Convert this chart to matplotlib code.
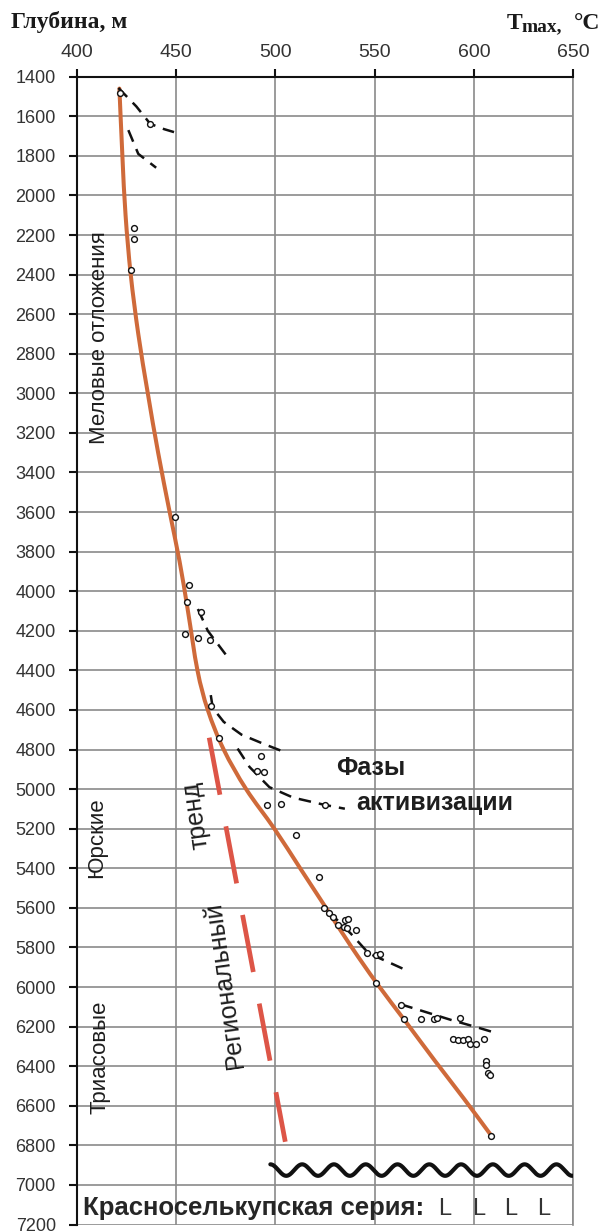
import numpy as np
import matplotlib
matplotlib.use("Agg")
import matplotlib.pyplot as plt
from matplotlib.path import Path
from matplotlib.patches import PathPatch

# ---- data -------------------------------------------------------------
# Tmax measurements (degC) and their depths (m)
tmax_values = [421.8, 436.9, 428.9, 428.9, 427.2,
               449.6, 456.4, 455.5, 462.6, 454.5, 460.9, 467.1,
               467.6, 471.5, 492.9, 490.7, 494.5, 495.7, 502.6, 510.5, 524.8,
               522.0, 524.5, 527.0, 529.0, 531.5, 534.9, 536.6, 534.4, 536.2,
               540.8, 546.1, 550.8, 552.5, 550.8, 563.4, 564.6, 573.5, 579.7,
               581.4, 592.8, 589.4, 592.0, 594.5, 597.0, 598.2, 600.8, 604.9,
               605.9, 606.2, 607.0, 607.9, 608.8]
tmax_depths = [1484, 1641, 2165, 2219, 2378,
               3627, 3970, 4054, 4107, 4215, 4237, 4245,
               4578, 4744, 4833, 4908, 4915, 5079, 5074, 5234, 5079,
               5446, 5603, 5628, 5645, 5687, 5662, 5658, 5695, 5704,
               5712, 5830, 5839, 5834, 5979, 6092, 6160, 6160, 6160,
               6156, 6156, 6261, 6266, 6269, 6261, 6289, 6289, 6261,
               6374, 6396, 6435, 6445, 6752]

# Overall trend curve (nodes of a smooth curve)
trend_t = [421.5, 423.0, 424.6, 427.2, 431.0, 435.8, 441.0, 446.8,
           451.8, 456.0, 460.8, 466.0, 474.0, 485.3, 499.5, 512.5,
           525.5, 538.5, 551.0, 566.0, 580.5, 595.0, 608.8]
trend_d = [1460, 1800, 2100, 2400, 2700, 3000, 3300, 3600,
           3850, 4100, 4400, 4600, 4800, 5000, 5200, 5400,
           5600, 5800, 5980, 6180, 6375, 6565, 6752]

# Regional trend (straight dashed line)
regional_t = [466.7, 505.0]
regional_d = [4740, 6782]

# Activation phases (dashed branches)
phase_t = [
    [421, 430, 437, 444, 449],
    [426, 431, 440],
    [461, 466, 476],
    [467.5, 468.5, 474, 483, 495, 505.5],
    [481, 487, 497, 509, 525, 535],
    [527, 538, 547, 556, 565],
    [563, 574, 589, 601, 612],
]
phase_d = [
    [1457, 1550, 1638, 1665, 1680],
    [1670, 1790, 1860],
    [4090, 4200, 4333],
    [4525, 4590, 4660, 4725, 4775, 4816],
    [4795, 4888, 4990, 5043, 5080, 5099],
    [5620, 5730, 5830, 5870, 5911],
    [6087, 6121, 6168, 6202, 6235],
]

# Unconformity (top of the Krasnoselkup series)
unconf_start = 497.5
unconf_depth = 6925
unconf_amp = 29
unconf_period = 16

x_ticks = [400, 450, 500, 550, 600, 650]
y_ticks = list(range(1400, 7201, 200))


def smooth_path(xs, ys):
    """Cubic Bezier path through the nodes (Catmull-Rom tangents)."""
    p = np.column_stack([xs, ys]).astype(float)
    n = len(p)
    verts = [p[0]]
    codes = [Path.MOVETO]
    for i in range(n - 1):
        p0 = p[i - 1] if i > 0 else p[i]
        p1, p2 = p[i], p[i + 1]
        p3 = p[i + 2] if i + 2 < n else p[i + 1]
        c1 = p1 + (p2 - p0) / 6.0
        c2 = p2 - (p3 - p1) / 6.0
        verts += [c1, c2, p2]
        codes += [Path.CURVE4] * 3
    return Path(verts, codes)


# ---- figure -------------------------------------------------------------
W, H = 601, 1232
fig = plt.figure(figsize=(W / 100, H / 100), dpi=100)
left_px, right_px, top_px, bottom_px = 76.7, 573.3, 76.7, 1224.5
ax = fig.add_axes([left_px / W, 1 - bottom_px / H,
                   (right_px - left_px) / W, (bottom_px - top_px) / H])

ax.set_xlim(400, 650)
ax.set_ylim(7200, 1400)
ax.set_xticks(x_ticks)
ax.set_yticks(y_ticks)
ax.xaxis.tick_top()
ax.grid(True, color="#8a8a8a", lw=1.2, zorder=0)
ax.set_axisbelow(True)

for side in ("left", "top"):
    ax.spines[side].set_color("#111111")
    ax.spines[side].set_linewidth(1.5)
ax.spines["right"].set_color("#8a8a8a")
ax.spines["right"].set_linewidth(1.2)
ax.spines["bottom"].set_visible(False)

ax.tick_params(axis="x", which="both", direction="out", length=6, width=1.5,
               color="#111111", pad=5, labelsize=14, labelcolor="#333333",
               top=True, bottom=False, right=False)
ax.tick_params(axis="y", which="both", direction="out", length=6, width=1.5,
               color="#111111", pad=9, labelsize=13, labelcolor="#333333",
               right=False)
for lab in ax.get_xticklabels() + ax.get_yticklabels():
    lab.set_family("Liberation Sans")

# trend curve
ax.add_patch(PathPatch(smooth_path(trend_t, trend_d), fill=False,
                       edgecolor="#cf6a3a", lw=2.9, capstyle="round",
                       joinstyle="round", zorder=3))

# regional trend
ax.plot(regional_t, regional_d, color="#dd5547", lw=3.4,
        dashes=(12.3, 6.8), dash_capstyle="butt", zorder=3)

# activation phases
for tt, dd in zip(phase_t, phase_d):
    ax.plot(tt, dd, color="#111111", lw=1.8, dashes=(5, 3.2), zorder=4)

# measurements
ax.plot(tmax_values, tmax_depths, linestyle="none", marker="o", ms=4.2,
        mfc="white", mec="#111111", mew=1.0, zorder=5)

# unconformity wave
wt = np.linspace(unconf_start, 655, 800)
wd = unconf_depth - unconf_amp * np.cos(2 * np.pi * (wt - unconf_start) / unconf_period)
ax.plot(wt, wd, color="#111111", lw=3.0, solid_capstyle="round", zorder=4)

# ---- annotations --------------------------------------------------------
sans = "Liberation Sans"
txt_col = "#1e1e1e"
ax.text(411.3, 2718, "Меловые отложения", rotation=90, ha="center",
        va="center", fontsize=16, family=sans, color=txt_col)
ax.text(410.1, 5243, "Юрские", rotation=90, ha="center", va="center",
        fontsize=16, family=sans, color=txt_col)
ax.text(411.8, 6354, "Триасовые", rotation=90, ha="center", va="center",
        fontsize=16, family=sans, color=txt_col)
ax.text(460.0, 5130, "тренд", rotation=98, ha="center", va="center",
        fontsize=18, family=sans, color=txt_col, rotation_mode="anchor")
ax.text(474.6, 5990, "Региональный", rotation=98, ha="center", va="center",
        fontsize=18, family=sans, color=txt_col, rotation_mode="anchor")
ax.text(548, 4895, "Фазы", ha="center", va="center", fontsize=18,
        fontweight="bold", family=sans, color=txt_col)
ax.text(580, 5071, "активизации", ha="center", va="center", fontsize=18,
        fontweight="bold", family=sans, color=txt_col)
ax.text(403, 7152, "Красноселькупская серия:", ha="left", va="baseline",
        fontsize=18.5, fontweight="bold", family=sans, color="#262626")
for lx in (585.5, 602.4, 618.5, 635.1):
    ax.text(lx, 7152, "L", ha="center", va="baseline", fontsize=17,
            family=sans, color="#333333")

serif = "Liberation Serif"
fig.text(11 / W, 1 - 28 / H, "Глубина, м", ha="left", va="baseline",
         fontsize=17, fontweight="bold", family=serif, color="#1a1a1a")
fig.text(507 / W, 1 - 29 / H, "T", ha="left", va="baseline",
         fontsize=17, fontweight="bold", family=serif, color="#1a1a1a")
fig.text(521 / W, 1 - 31.5 / H, "max,", ha="left", va="baseline",
         fontsize=14, fontweight="bold", family=serif, color="#1a1a1a")
fig.text(574 / W, 1 - 29 / H, "°C", ha="left", va="baseline",
         fontsize=17, fontweight="bold", family=serif, color="#1a1a1a")

fig.savefig("out.png", dpi=100)
